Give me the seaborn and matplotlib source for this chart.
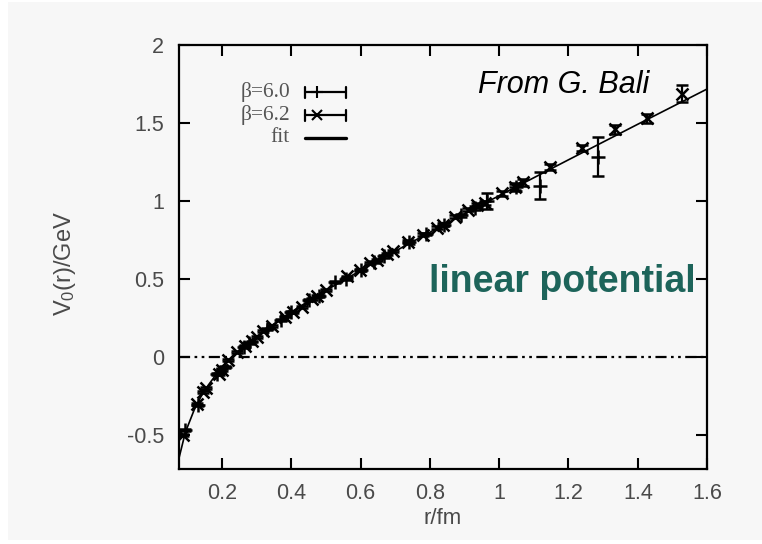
import matplotlib
matplotlib.use("Agg")
import matplotlib.pyplot as plt
import seaborn as sns
import numpy as np
import pandas as pd
from matplotlib.patches import Rectangle

# ---------------- data ----------------
beta60_r = [0.093, 0.131, 0.186, 0.209, 0.263, 0.279, 0.33, 0.372, 0.40, 0.45, 0.48,
            0.527, 0.558, 0.60, 0.64, 0.668, 0.74, 0.79, 0.84, 0.89, 0.93, 0.965,
            1.05, 1.118, 1.285]
beta60_v = [-0.47, -0.31, -0.11, -0.065, 0.065, 0.09, 0.18, 0.24, 0.29, 0.365, 0.39,
            0.48, 0.50, 0.56, 0.61, 0.645, 0.735, 0.79, 0.85, 0.91, 0.955, 1.00,
            1.09, 1.10, 1.285]
beta60_err = [0.006, 0.006, 0.006, 0.006, 0.006, 0.006, 0.006, 0.006, 0.006, 0.006, 0.006,
              0.006, 0.006, 0.006, 0.006, 0.008, 0.008, 0.008, 0.01, 0.01, 0.012, 0.05,
              0.025, 0.085, 0.125]

beta62_r = [0.088, 0.128, 0.146, 0.155, 0.192, 0.20, 0.218, 0.245, 0.267, 0.287, 0.30,
            0.319, 0.345, 0.382, 0.405, 0.43, 0.46, 0.474, 0.50, 0.561, 0.599, 0.627,
            0.647, 0.676, 0.694, 0.737, 0.78, 0.82, 0.838, 0.873, 0.91, 0.936, 0.959,
            1.008, 1.045, 1.069, 1.147, 1.239, 1.334, 1.427, 1.527]
beta62_v = [-0.50, -0.30, -0.225, -0.20, -0.11, -0.08, -0.02, 0.03, 0.07, 0.10, 0.13,
            0.165, 0.20, 0.26, 0.29, 0.32, 0.37, 0.39, 0.43, 0.517, 0.56, 0.605,
            0.625, 0.66, 0.68, 0.74, 0.785, 0.83, 0.85, 0.90, 0.945, 0.975, 0.99,
            1.05, 1.09, 1.12, 1.22, 1.34, 1.46, 1.53, 1.69]
beta62_err = [0.006, 0.006, 0.006, 0.006, 0.006, 0.006, 0.006, 0.006, 0.006, 0.006, 0.006,
              0.006, 0.006, 0.006, 0.006, 0.006, 0.006, 0.006, 0.006, 0.006, 0.006, 0.006,
              0.006, 0.006, 0.006, 0.008, 0.008, 0.008, 0.008, 0.01, 0.01, 0.01, 0.012,
              0.015, 0.02, 0.02, 0.02, 0.02, 0.03, 0.03, 0.055]

fit_r = [0.077, 0.09, 0.10, 0.12, 0.14, 0.16, 0.18, 0.20, 0.23, 0.26, 0.30, 0.35,
         0.40, 0.45, 0.50, 0.60, 0.70, 0.80, 0.90, 1.00, 1.10, 1.20, 1.30, 1.40,
         1.50, 1.60]
fit_v = [-0.641, -0.524, -0.452, -0.339, -0.252, -0.182, -0.122, -0.069, 0.000,
         0.060, 0.132, 0.213, 0.289, 0.359, 0.427, 0.555, 0.679, 0.800, 0.918,
         1.035, 1.150, 1.265, 1.379, 1.493, 1.606, 1.719]

zero_level = 0.0

x_ticks = [0.2, 0.4, 0.6, 0.8, 1.0, 1.2, 1.4, 1.6]
x_tick_labels = ["0.2", "0.4", "0.6", "0.8", "1", "1.2", "1.4", "1.6"]
y_ticks = [-0.5, 0.0, 0.5, 1.0, 1.5, 2.0]
y_tick_labels = ["-0.5", "0", "0.5", "1", "1.5", "2"]

legend_labels = ["\u03b2=6.0", "\u03b2=6.2", "fit"]

# ---------------- style ----------------
sns.set_theme(style="ticks")
BG = "#f7f7f7"
plt.rcParams["font.family"] = ["Liberation Sans", "DejaVu Sans"]
plt.rcParams["mathtext.fontset"] = "custom"
plt.rcParams["mathtext.rm"] = "Liberation Sans"
GRAY = "#4a4a4a"

fig = plt.figure(figsize=(7.62, 5.44), dpi=100, facecolor="white")
fig.patches.append(Rectangle((8 / 762, 4 / 544), 754 / 762, 538 / 544,
                             transform=fig.transFigure, facecolor=BG,
                             edgecolor="none", zorder=-10))
ax = fig.add_axes([0.235, 0.138, 0.693, 0.779])
ax.set_facecolor(BG)

# zero line
ax.axhline(zero_level, color="black", lw=1.6, ls=(0, (5, 2, 1.2, 2, 1.2, 2)), zorder=1)

# fit curve
fit_df = pd.DataFrame({"r": fit_r, "V": fit_v})
sns.lineplot(data=fit_df, x="r", y="V", ax=ax, color="black", lw=1.2, sort=False,
             estimator=None, zorder=2)

# data
ax.errorbar(beta60_r, beta60_v, yerr=beta60_err, fmt="+", color="black",
            ms=10, mew=1.8, elinewidth=1.6, capsize=4, capthick=1.6, zorder=3)
ax.errorbar(beta62_r, beta62_v, yerr=beta62_err, fmt="x", color="black",
            ms=8, mew=1.8, elinewidth=1.6, capsize=4, capthick=1.6, zorder=3)

ax.set_xlim(0.0765, 1.6)
ax.set_ylim(-0.717, 2.0)
ax.set_xticks(x_ticks)
ax.set_xticklabels(x_tick_labels)
ax.set_yticks(y_ticks)
ax.set_yticklabels(y_tick_labels)
ax.tick_params(direction="in", length=8, width=1.5, top=True, right=True,
               labelsize=15.5, labelcolor=GRAY, pad=11, color="black")
ax.tick_params(axis="x", pad=10)
for s in ax.spines.values():
    s.set_visible(True)
    s.set_linewidth(1.6)
    s.set_color("black")

ax.set_xlabel("r/fm", fontsize=16, color=GRAY)
ax.set_ylabel(r"$\mathregular{V_0(r)/GeV}$", fontsize=17, color=GRAY)
ax.xaxis.set_label_coords(0.5, -0.118)
ax.yaxis.set_label_coords(-0.216, 0.486)
ax.xaxis.label.set_va("center")
ax.yaxis.label.set_va("center")

# manual gnuplot-style legend
tr = ax.transAxes
serif = ["Liberation Serif", "DejaVu Serif"]
rows_y = [0.889, 0.835, 0.781]
for lab, yy in zip(legend_labels, rows_y):
    ax.text(0.210, yy, lab, transform=tr, ha="right", va="center",
            fontsize=15.5, color="#555555", family=serif)
for yy, mk, ms in [(rows_y[0], "+", 9), (rows_y[1], "x", 7)]:
    ax.plot([0.239, 0.316], [yy, yy], transform=tr, color="black", lw=1.6)
    ax.plot([0.239, 0.239], [yy - 0.013, yy + 0.013], transform=tr, color="black", lw=1.6)
    ax.plot([0.316, 0.316], [yy - 0.013, yy + 0.013], transform=tr, color="black", lw=1.6)
    ax.plot([0.261], [yy], transform=tr, marker=mk, ms=ms, mew=1.5, color="black")
ax.plot([0.239, 0.316], [rows_y[2], rows_y[2]], transform=tr, color="black", lw=2.4)

# annotations
ax.text(0.566, 0.906, "From G. Bali", transform=tr, ha="left", va="center",
        fontsize=22, style="italic", color="black")
ax.text(0.474, 0.440, "linear potential", transform=tr, ha="left", va="center",
        fontsize=27, weight="bold", color="#1d645a")

fig.savefig("out.png", dpi=100, facecolor="white")
